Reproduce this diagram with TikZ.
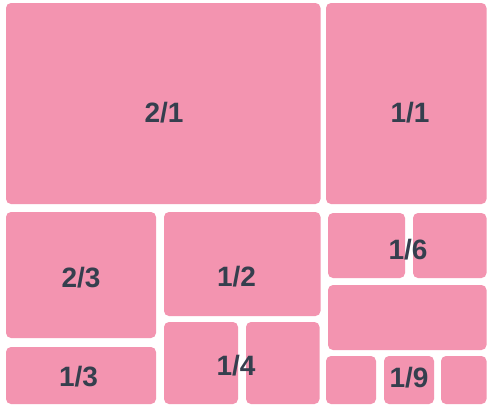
\documentclass[tikz,border=0pt]{standalone}
\usepackage{fontspec}
\setmainfont{Liberation Sans}
\usepackage{tikz}
\definecolor{TreeMapPink}{RGB}{243,148,176}
\definecolor{TreeMapText}{RGB}{53,63,78}

\begin{document}
\begin{tikzpicture}[x=1pt,y=-1pt,grp/.style n args={2}{fill=TreeMapPink,minimum width=#1pt,minimum height=#2pt,rounded corners=5pt,rectangle,inner sep=0pt},lbl/.style={text=TreeMapText,font=\fontsize{28}{30}\selectfont\bfseries,inner sep=0pt}]
\useasboundingbox (0,0) rectangle (487,405);
\fill[white] (0,0) rectangle (487,405);
   \node[grp={314.5}{201}](n21) at(163.25,103.5) {};
   \node[grp={160.5}{201}](n11) at(406.25,103.5) {};
   \node[grp={150}{126}](n23) at(81,275) {};
   \node[grp={150}{57}](n13) at(81,375.5) {};
   \node[grp={156.5}{104}](n12) at(242.25,264) {};
   \node[grp={74}{82}](n14a) at(201,363) {};
   \node[grp={73.5}{82}](n14b) at(282.75,363) {};
   \node[grp={77}{65}](n16a) at(366.5,245.5) {};
   \node[grp={73.5}{65}](n16b) at(449.75,245.5) {};
   \node[grp={158.5}{65}](n16c) at(407.25,317.5) {};
   \node[grp={50}{48}](n19a) at(351,380) {};
   \node[grp={50}{48}](n19b) at(409,380) {};
   \node[grp={45.5}{48}](n19c) at(463.75,380) {};
% labels
\node[lbl](t21) at(164,112.5) {2/1};
\node[lbl](t11) at(410,112.5) {1/1};
\node[lbl](t23) at(81,277.5) {2/3};
\node[lbl](t12) at(236.5,276.5) {1/2};
\node[lbl](t16) at(408,250) {1/6};
\node[lbl](t14) at(236,366) {1/4};
\node[lbl](t13) at(78.5,377) {1/3};
\node[lbl](t19) at(409,378) {1/9};
\end{tikzpicture}
\end{document}
